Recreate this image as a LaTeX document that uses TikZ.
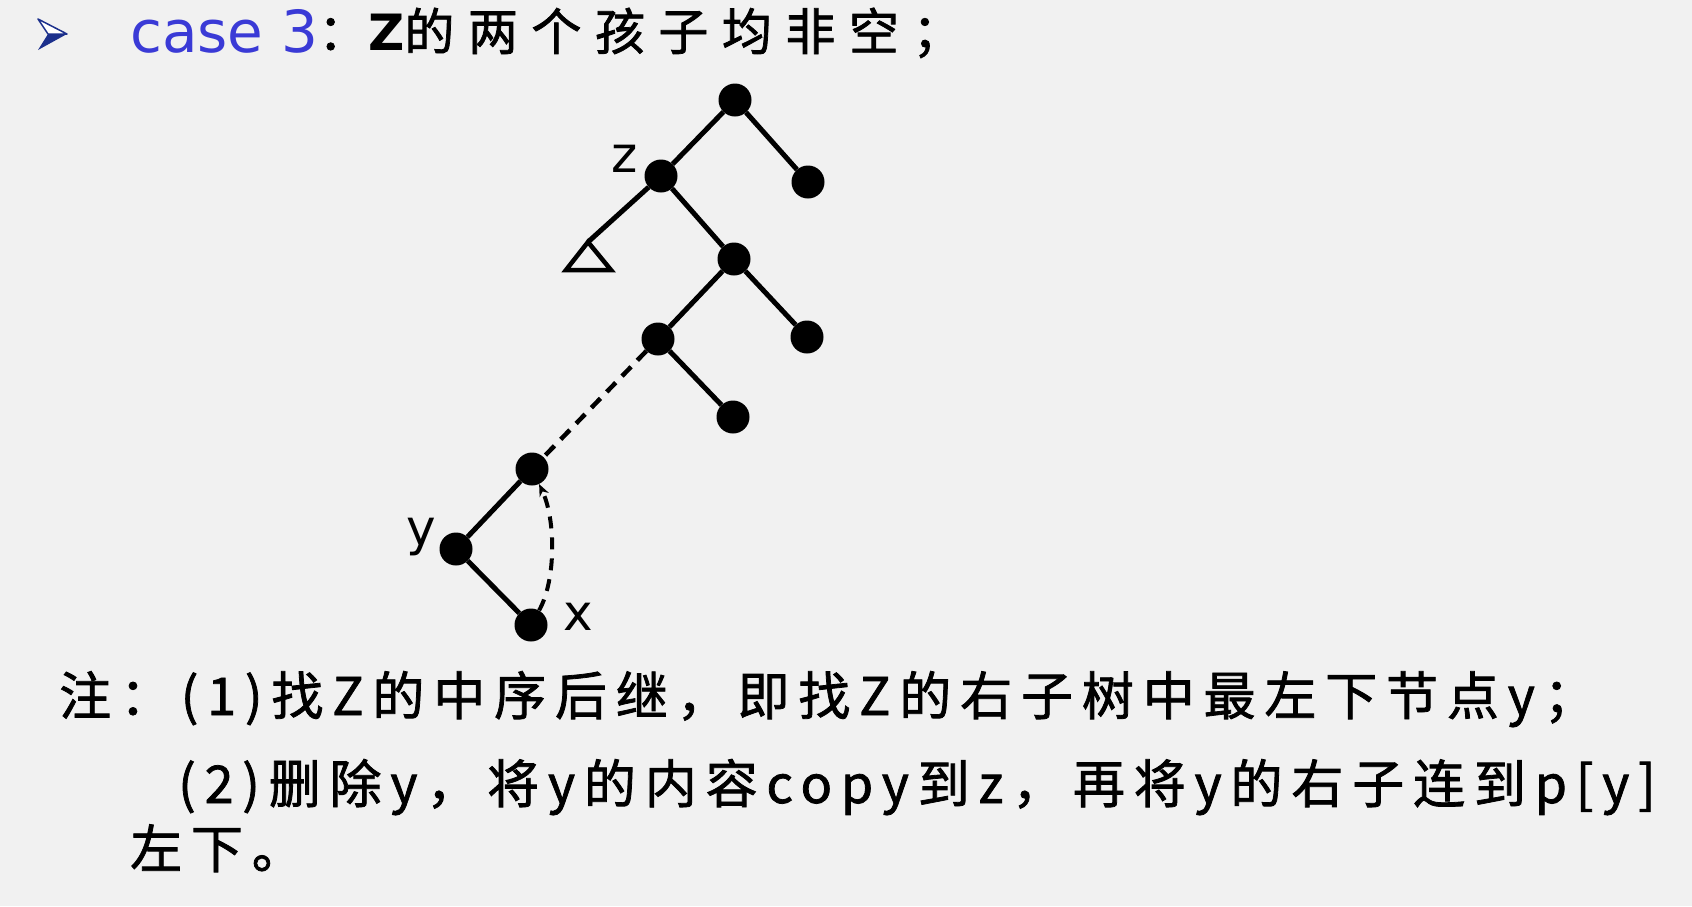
\documentclass[tikz,border=0pt]{standalone}
\usepackage{fontspec}
\usetikzlibrary{arrows.meta}
\newfontfamily\lat{DejaVu Sans}
\newfontfamily\cjk[LetterSpace=17,FakeBold=1.5]{Noto Sans CJK SC}
\newfontfamily\cjkt[LetterSpace=27,FakeBold=1.5]{Noto Sans CJK SC}
\definecolor{bg}{RGB}{241,241,241}
\definecolor{casecol}{RGB}{58,58,214}
\definecolor{arrdark}{RGB}{28,48,140}
\begin{document}
\begin{tikzpicture}[x=1pt,y=-1pt,
  dot/.style={circle,fill=black,inner sep=0pt,minimum size=33pt},
  edge/.style={line width=5pt},
  dedge/.style={line width=4.5pt,dash pattern=on 13pt off 9pt},
  txt/.style={inner sep=0pt,anchor=base west}]
\fill[bg] (0,0) rectangle (1692,906);
\useasboundingbox (0,0) rectangle (1692,906);
% bullet arrow
\coordinate (ba) at (38,19);
\coordinate (bt) at (67,34);
\coordinate (bb) at (38,50);
\coordinate (bn) at (48,34);
\fill[arrdark] (bn) -- (bt) -- (bb) -- cycle;
\filldraw[fill=white,draw=arrdark,line width=1.5pt,line join=round] (ba) -- (bt) -- (bn) -- cycle;
% title
\node[txt,text=casecol,font=\lat\fontsize{58pt}{58pt}\selectfont] (case) at (130,52) {case 3};
\node[txt,font=\cjkt\fontsize{50pt}{50pt}\selectfont] (title) at (318,50) {：{\lat\bfseries Z}的两个孩子均非空；};
% tree
\node[dot] (r) at (735,100) {};
\node[dot] (z) at (661,176) {};
\node[dot] (rr) at (808,182) {};
\coordinate (ta) at (588,242);
\coordinate (tl) at (566,270);
\coordinate (tr) at (611,270);
\node[dot] (a) at (734,259) {};
\node[dot] (b) at (658,339) {};
\node[dot] (c) at (807,337) {};
\node[dot] (d) at (733,417) {};
\node[dot] (e) at (532,469) {};
\node[dot] (y) at (456,549) {};
\node[dot] (x) at (531,625) {};
\draw[edge] (r) -- (z);
\draw[edge] (r) -- (rr);
\draw[edge] (z) -- (ta);
\draw[line width=4.5pt,line join=miter] (ta) -- (tl) -- (tr) -- cycle;
\draw[edge] (z) -- (a);
\draw[edge] (a) -- (b);
\draw[edge] (a) -- (c);
\draw[edge] (b) -- (d);
\draw[dedge] (b) -- (e);
\draw[edge] (e) -- (y);
\draw[edge] (y) -- (x);
\draw[line width=4pt,dash pattern=on 12pt off 9pt,-{Stealth[length=12pt,width=10pt]}] (x) .. controls (556,580) and (556,520) .. (e);
% labels
\node[txt,font=\lat\fontsize{50pt}{50pt}\selectfont] (zl) at (611,172) {z};
\node[txt,font=\lat\fontsize{50pt}{50pt}\selectfont] (yl) at (406,545) {y};
\node[txt,font=\lat\fontsize{50pt}{50pt}\selectfont] (xl) at (563,630) {x};
% notes
\node[txt,font=\cjk\fontsize{52pt}{52pt}\selectfont] (n1) at (59,715) {注：(1)找Z的中序后继，即找Z的右子树中最左下节点y；};
\node[txt,font=\cjk\fontsize{52pt}{52pt}\selectfont] (n2) at (178,803) {(2)删除y，将y的内容copy到z，再将y的右子连到p[y]};
\node[txt,font=\cjk\fontsize{52pt}{52pt}\selectfont] (n3) at (130,868) {左下。};
\end{tikzpicture}
\end{document}
